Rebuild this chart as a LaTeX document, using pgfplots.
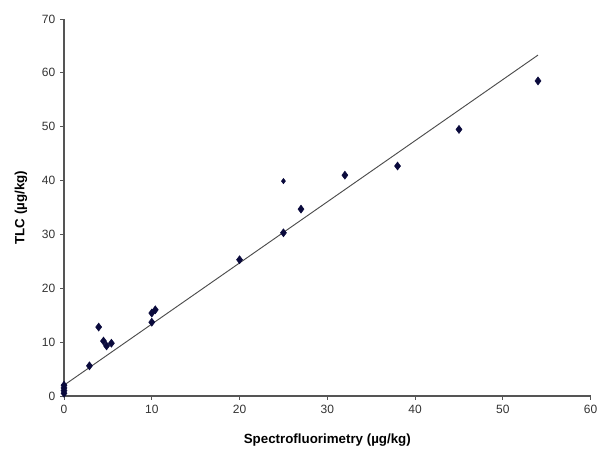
\documentclass[border=0pt]{standalone}
\usepackage{pgfplots}
\pgfplotsset{compat=1.18}
\usepackage{fontspec}
\setmainfont{Liberation Sans}
\definecolor{ptnavy}{HTML}{0A0A3C}
\definecolor{axgray}{HTML}{555555}

\begin{document}
\begin{tikzpicture}
\begin{axis}[
    at={(48pt,45pt)}, anchor=origin,
    scale only axis,
    width=395pt, height=282.75pt,
    xmin=0, xmax=60, ymin=0, ymax=70,
    xtick={0,10,...,60}, ytick={0,10,...,70},
    axis x line*=bottom, axis y line*=left,
    axis line style={axgray, line width=0.8pt},
    tick style={axgray, line width=0.6pt},
    tick align=outside,
    major tick length=3pt,
    ticklabel style={font=\fontsize{9}{10}\selectfont, text=black!80},
    /pgf/number format/assume math mode=true,
    xlabel={\textbf{Spectrofluorimetry (µg/kg)}},
    ylabel={\textbf{TLC (µg/kg)}},
    label style={font=\fontsize{10}{12}\selectfont},
    xlabel style={at={(axis description cs:0.5,0)}, anchor=north, yshift=-25pt},
    ylabel style={at={(axis description cs:0,0.5)}, anchor=south, yshift=24pt},
    clip=false,
]
\addplot[ptnavy, mark=diamond*, only marks, mark size=3pt] coordinates {
  (0,0.5)(0,1)(0,1.5)(0,2)
  (2.9,5.6)(3.95,12.8)(4.5,10.2)(4.85,9.3)(5.4,9.8)
  (10,13.7)(10,15.4)(10.4,16.0)
  (20,25.3)(25,30.3)(27,34.7)(32,41.0)(38,42.7)(45,49.5)(54,58.5)
};
\addplot[ptnavy, mark=diamond*, only marks, mark size=2pt] coordinates {(25,39.9)};
\addplot[black!70, line width=0.7pt] coordinates {(0,2.0)(54,63.3)};
\end{axis}
\pgfresetboundingbox
\path[use as bounding box] (0pt,0pt) rectangle (450pt,342pt);
\end{tikzpicture}
\end{document}
